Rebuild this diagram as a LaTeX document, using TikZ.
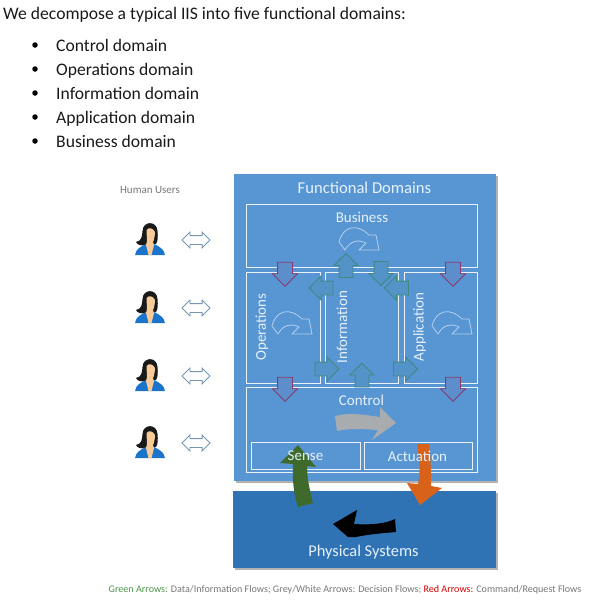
\documentclass[tikz,border=0pt]{standalone}
\usepackage{fontspec}
\setmainfont{Carlito}
\usetikzlibrary{shapes.arrows,shadows}
\definecolor{domainblue}{HTML}{5795D3}
\definecolor{physblue}{HTML}{2F73B5}
\definecolor{labelwhite}{HTML}{E6F1FA}
\definecolor{redline}{HTML}{8B3A70}
\definecolor{greenline}{HTML}{3F8A80}
\definecolor{legendgrey}{HTML}{777777}
\definecolor{skintone}{HTML}{F6CB97}
\definecolor{shirtblue}{HTML}{1B74CC}
\definecolor{senseflow}{HTML}{3E6B2B}
\definecolor{actflow}{HTML}{D9621A}
\definecolor{decideflow}{HTML}{A9ACAE}
\tikzset{
  domainbox/.style={draw=white!88!domainblue, line width=.9pt, inner sep=0, outer sep=0},
  blockshadow/.style={drop shadow={shadow xshift=1.5pt, shadow yshift=-1.5pt, opacity=.3, fill=black}},
  domainlabel/.style={text=labelwhite, inner sep=0, font=\fontsize{15}{17}\selectfont},
  bodytext/.style={anchor=base west, inner sep=0, text=black!90, font=\fontsize{17.6}{20}\selectfont},
  dot/.style={circle, fill=black, inner sep=0, minimum size=5.5pt},
  redarrow/.style={single arrow, draw=redline, fill=domainblue!92!redline, line width=.9pt, inner sep=0,
    minimum height=24pt, single arrow head extend=5pt, single arrow head indent=0pt},
  greenarrow/.style={single arrow, draw=greenline, fill=domainblue!85!greenline, line width=.9pt, inner sep=0,
    minimum height=24pt, single arrow head extend=5pt, single arrow head indent=0pt},
  userarrow/.style={double arrow, draw=black!30!domainblue!70, fill=white, line width=.8pt, inner sep=0,
    minimum height=28pt, double arrow head extend=3.5pt, double arrow head indent=0pt},
  turnarrow/.pic={
    \draw[white!55!domainblue, line width=.8pt, line join=round]
      (-20,2) .. controls (-16,-14) and (-2,-17) .. (10,-5) -- (17,-5) -- (20,10) -- (0,10) -- (7,3)
      .. controls (-1,-1) and (-9,1) .. (-14,10) -- cycle;
  },
  user/.pic={
    \fill[black!90] (-7.5,-8) .. controls (-7,-18.5) and (7,-18.5) .. (7.5,-8)
      .. controls (8,-2) and (8,2) .. (6,5) -- (-5,6) .. controls (-8,7) and (-13,6) .. (-14,3)
      .. controls (-8,2) and (-8,-3) .. cycle;
    \fill[shirtblue] (-15,16) .. controls (-14,10) and (-10,8) .. (-4,5) -- (4,5)
      .. controls (10,8) and (14,10) .. (15,16) -- cycle;
    \fill[skintone] (-3.5,-9) .. controls (-1,-12) and (3,-11) .. (5,-7)
      .. controls (5,-3) and (4,1) .. (3,3) -- (4,6) -- (1.5,16) -- (-1.5,16) -- (-4,6) -- (-3,2) -- cycle;
  }
}
\begin{document}
\begin{tikzpicture}[x=1pt, y=-1pt]
\useasboundingbox (0,0) rectangle (600,600);
% text at the top
\node[bodytext] (intro) at (3,19) {We decompose a typical IIS into five functional domains:};
\foreach \y/\ytext/\yname in {45/Control domain/ctl,69/Operations domain/ops,93/Information domain/inf,117/Application domain/app,141/Business domain/bus}
{
	\node[dot] (dot\yname) at (35,\y) {};
	\node[bodytext] (item\yname) at (56,\y+6.5) {\ytext};
}
% users
\node[text=legendgrey, inner sep=0, font=\fontsize{11}{13}\selectfont] (users) at (150,190) {Human Users};
\foreach \y/\yname in {239/a,307/b,375/c,442/d}
{
	\pic at (150,\y) {user};
	\node[userarrow] (arrow\yname) at (196,\y+1) {\rule{0pt}{8pt}};
}
% big blocks
\node[fill=domainblue, blockshadow, minimum width=262pt, minimum height=307pt, inner sep=0] (functional) at (365,327.5) {};
\node[fill=physblue, blockshadow, minimum width=263pt, minimum height=77pt, inner sep=0] (physical) at (364.5,529.5) {};
% domain boxes
\node[domainbox, minimum width=231pt, minimum height=63pt] (business) at (361.5,235.5) {};
\node[domainbox, minimum width=74pt, minimum height=111pt] (operations) at (283,327.5) {};
\node[domainbox, minimum width=73pt, minimum height=111pt] (information) at (361.5,327.5) {};
\node[domainbox, minimum width=73pt, minimum height=111pt] (application) at (440.5,327.5) {};
\node[domainbox, minimum width=231pt, minimum height=85pt] (control) at (361.5,429.5) {};
\node[domainbox, minimum width=109pt, minimum height=27pt] (sense) at (305.5,455.5) {};
\node[domainbox, minimum width=108pt, minimum height=27pt] (actuation) at (418,455.5) {};
% turning arrows
\foreach \x/\y in {359/240,292/324,452/324}
{
	\pic at (\x,\y) {turnarrow};
}
% flows between domains
\foreach \x/\y/\yname in {285/270.5/a,453/270.5/b,285/385.5/c,453/385.5/d}
{
	\node[redarrow, rotate=-90] (red\yname) at (\x,\y) {\rule{0pt}{14pt}};
}
\node[greenarrow, rotate=90] (upbus) at (346,269) {\rule{0pt}{13pt}};
\node[greenarrow, rotate=-90] (downbus) at (381,270) {\rule{0pt}{13pt}};
\node[greenarrow, rotate=180] (leftops) at (324.5,288) {\rule{0pt}{13pt}};
\node[greenarrow, rotate=180] (leftinf) at (400,288) {\rule{0pt}{13pt}};
\node[greenarrow] (rightops) at (323.5,369) {\rule{0pt}{13pt}};
\node[greenarrow] (rightapp) at (402,369) {\rule{0pt}{13pt}};
\node[greenarrow, rotate=90] (upctl) at (362,378.5) {\rule{0pt}{13pt}};
% thick arrows
\fill[decideflow] (335,416) .. controls (350,412) and (365,415) .. (380,417) -- (380,407)
  -- (396,423) -- (372,440) -- (378,430) .. controls (362,429) and (350,428) .. (337,431) -- cycle;
\fill[senseflow] (298,507) -- (313,503) .. controls (310,490) and (307,480) .. (307,466)
  -- (316,467) -- (298,445) -- (280,463) -- (293,464) .. controls (292,480) and (294,495) .. (298,507) -- cycle;
\fill[actflow] (417,444) -- (429,444) .. controls (431,460) and (431,475) .. (431,486)
  -- (442,488) -- (420,505) -- (407,483) -- (418,484) .. controls (421,470) and (419,458) .. (417,444) -- cycle;
\fill[black] (395,519) -- (396,532) .. controls (385,533) and (370,534) .. (356,537) -- (348,537)
  -- (333,524) -- (357,510) -- (354,524) .. controls (370,525) and (385,524) .. (395,519) -- cycle;
% labels
\node[domainlabel, font=\fontsize{16.6}{19}\selectfont] (functionaltext) at (364.5,187.5) {Functional Domains};
\node[domainlabel] (businesstext) at (362,217) {Business};
\node[domainlabel, rotate=90] (operationstext) at (262,327) {Operations};
\node[domainlabel, rotate=90] (informationtext) at (342,327) {Information};
\node[domainlabel, rotate=90] (applicationtext) at (419.5,327) {Application};
\node[domainlabel] (controltext) at (361.5,400) {Control};
\node[domainlabel] (sensetext) at (305.5,456) {Sense};
\node[domainlabel] (actuationtext) at (417.5,456) {Actuation};
\node[domainlabel, font=\fontsize{16.4}{19}\selectfont] (physicaltext) at (363.5,552) {Physical Systems};
% legend
\node[inner sep=0, text=legendgrey, font=\fontsize{10.1}{12}\selectfont] (legend) at (345,590)
  {\textcolor{green!40!black!70}{Green Arrows:} Data/Information Flows; Grey/White Arrows: Decision Flows; \textcolor{red!85!black}{Red Arrows:} Command/Request Flows};
\end{tikzpicture}
\end{document}
